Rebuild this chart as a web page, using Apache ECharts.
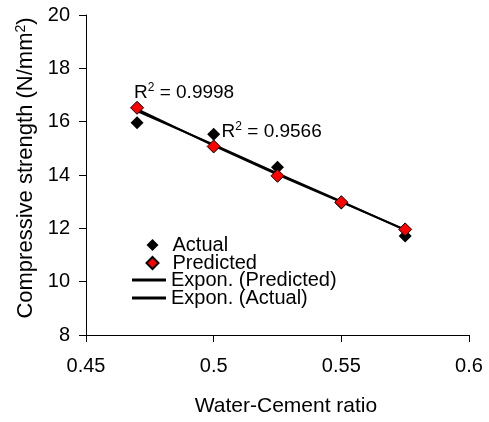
<!DOCTYPE html>
<html>
<head>
<meta charset="utf-8">
<script src="https://cdn.jsdelivr.net/npm/echarts@6/dist/echarts.min.js"></script>
<style>
    html, body { margin: 0; padding: 0; background: #fff; }
    #chart { width: 489px; height: 422px; }
</style>
</head>
<body>
<div id="chart"></div>
<script>
// water-cement ratios
const ratios = [0.47, 0.5, 0.525, 0.55, 0.575];
const actual = [15.96, 15.53, 14.29, 12.95, 11.71];
const predicted = [16.52, 15.07, 13.97, 12.98, 11.96];
// exponential trend lines
const trendPredicted = [16.47, 15.10, 14.02, 12.98, 11.95];
const trendActual = [16.40, 15.14, 14.06, 13.01, 11.93];
const xTicks = [0.45, 0.6, 0.05];
const yTicks = [8, 20, 2];
const r2Labels = ["0.9998", "0.9566"];

const font = "Liberation Sans, Arial, sans-serif";
const pair = (xs, ys) => xs.map((x, i) => [x, ys[i]]);
const lineIcon = "path://M0,0 L34,0 L34,3 L0,3 Z";

const chart = echarts.init(document.getElementById("chart"));

const r2Label = (val) => ({
    show: true,
    position: "right",
    distance: 0,
    formatter: "{a|R}{s|2}{a| = " + val + "}",
    rich: {
        a: { fontSize: 19, fontFamily: font, color: "#000", lineHeight: 22 },
        s: { fontSize: 12, fontFamily: font, color: "#000", verticalAlign: "top", lineHeight: 22 },
    },
});

const legendText = { fontSize: 20, lineHeight: 19, color: "#000", fontFamily: font };

chart.setOption({
    animation: false,
    textStyle: { fontFamily: font, color: "#000" },
    grid: { left: 86, right: 20, top: 15, bottom: 85, containLabel: false },
    legend: [
        {
            orient: "vertical",
            left: 140.5,
            top: 230,
            itemWidth: 12,
            itemHeight: 12,
            itemGap: -2,
            textStyle: Object.assign({ padding: [0, 0, 0, 9] }, legendText),
            data: [
                { name: "Actual", icon: "diamond" },
                { name: "Predicted", icon: "diamond" },
            ],
        },
        {
            orient: "vertical",
            left: 127,
            top: 265,
            itemWidth: 34,
            itemHeight: 12,
            itemGap: -2,
            textStyle: legendText,
            data: [
                { name: "Expon. (Predicted)", icon: lineIcon },
                { name: "Expon. (Actual)", icon: lineIcon },
            ],
        },
    ],
    xAxis: {
        type: "value",
        min: xTicks[0],
        max: xTicks[1],
        interval: xTicks[2],
        name: "Water-Cement ratio",
        nameLocation: "middle",
        nameGap: 61,
        nameTextStyle: { fontSize: 21, color: "#000", fontFamily: font, padding: [0, 0, 0, 17] },
        axisLine: { lineStyle: { color: "#000", width: 1 } },
        axisTick: { show: true, length: 7, lineStyle: { color: "#000" } },
        axisLabel: { fontSize: 20, color: "#000", margin: 21, fontFamily: font },
        splitLine: { show: false },
    },
    yAxis: {
        type: "value",
        min: yTicks[0],
        max: yTicks[1],
        interval: yTicks[2],
        name: "{a|Compressive strength (N/mm}{s|2}{a|)}",
        nameLocation: "middle",
        nameRotate: 90,
        nameGap: 48,
        nameTextStyle: {
            padding: [0, 0, 0, 14],
            rich: {
                a: { fontSize: 22, fontFamily: font, color: "#000", lineHeight: 24 },
                s: { fontSize: 14, fontFamily: font, color: "#000", verticalAlign: "top", lineHeight: 24 },
            },
        },
        axisLine: { show: true, lineStyle: { color: "#000", width: 1 } },
        axisTick: { show: true, length: 7, lineStyle: { color: "#000" } },
        axisLabel: { fontSize: 20, color: "#000", margin: 16, fontFamily: font },
        splitLine: { show: false },
    },
    series: [
        {
            name: "Expon. (Predicted)",
            type: "line",
            symbol: "none",
            z: 2,
            lineStyle: { color: "#000", width: 2 },
            itemStyle: { color: "#000" },
            data: pair(ratios, trendPredicted),
        },
        {
            name: "Expon. (Actual)",
            type: "line",
            symbol: "none",
            z: 2,
            lineStyle: { color: "#000", width: 2 },
            itemStyle: { color: "#000" },
            data: pair(ratios, trendActual),
        },
        {
            name: "Actual",
            type: "scatter",
            symbol: "diamond",
            symbolSize: 13,
            z: 3,
            itemStyle: { color: "#000", opacity: 1 },
            data: pair(ratios, actual),
            markPoint: {
                symbol: "circle",
                symbolSize: 0,
                data: [{ coord: [0.5031, 15.62], label: r2Label(r2Labels[1]) }],
            },
        },
        {
            name: "Predicted",
            type: "scatter",
            symbol: "diamond",
            symbolSize: 13,
            z: 4,
            itemStyle: { color: "#ff0000", borderColor: "#000", borderWidth: 1, opacity: 1 },
            data: pair(ratios, predicted),
            markPoint: {
                symbol: "circle",
                symbolSize: 0,
                data: [{ coord: [0.4688, 17.09], label: r2Label(r2Labels[0]) }],
            },
        },
    ],
});
</script>
</body>
</html>
